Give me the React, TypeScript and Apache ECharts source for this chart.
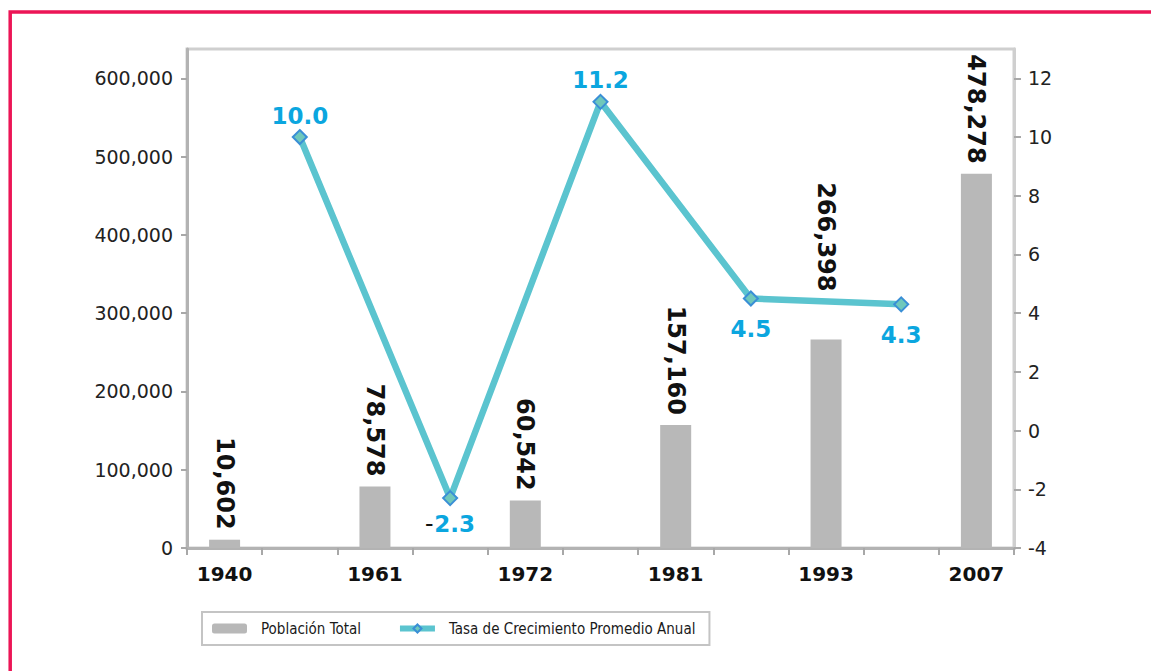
import React, { useEffect, useRef } from "react";
import * as echarts from "echarts";

// Categories: census years (bars) interleaved with inter-census slots (growth-rate points)
const years = ["1940", "1961", "1972", "1981", "1993", "2007"];
const populationValues = [10602, 78578, 60542, 157160, 266398, 478278];
const rateValues = [10.0, -2.3, 11.2, 4.5, 4.3];
const leftTicks = { min: 0, max: 637500, interval: 100000 };
const rightTicks = { min: -4, max: 13, interval: 2 };

// label placement (style, not data)
const barLabelDistance = [10, 10, 10, 10, 48, 10];
const ratePlacement = ["top", "bottom", "top", "bottom", "bottom"];
const rateDistance = [2, 6, 2, 11, 11];

const fmtThousands = (v: number) =>
  String(Math.round(v)).replace(/\B(?=(\d{3})+(?!\d))/g, ",");

export default function App() {
  const ref = useRef<HTMLDivElement>(null);

  useEffect(() => {
    if (!ref.current) return;
    const chart = echarts.init(ref.current, undefined, { renderer: "svg" });

    // 11 slots: even = census years, odd = growth-rate points between them
    const categories: string[] = [];
    const barData: any[] = [];
    const lineData: any[] = [];
    years.forEach((y, i) => {
      categories.push(y);
      barData.push({ value: populationValues[i], label: { distance: barLabelDistance[i] } });
      lineData.push(null);
      if (i < rateValues.length) {
        categories.push("");
        barData.push(null);
        lineData.push({
          value: rateValues[i],
          label: { position: ratePlacement[i], distance: rateDistance[i] },
        });
      }
    });

    chart.setOption({
      animation: false,
      backgroundColor: "#ffffff",
      graphic: [
        {
          type: "rect",
          silent: true,
          shape: { x: 10.2, y: 12, width: 1400, height: 900 },
          style: { fill: "none", stroke: "#ec1556", lineWidth: 3.5 },
        },
      ],
      grid: {
        left: 187,
        right: 137,
        top: 49,
        bottom: 123,
        show: true,
        borderColor: "#cfcfcf",
        borderWidth: 3,
        backgroundColor: "transparent",
      },
      legend: {
        left: 202,
        top: 612,
        orient: "horizontal",
        borderColor: "#c4c4c4",
        borderWidth: 2,
        padding: [9, 14, 9, 10],
        itemGap: 36,
        itemWidth: 35,
        itemHeight: 10,
        lineStyle: { width: 6 },
        textStyle: {
          fontFamily: "'Liberation Sans Narrow', 'DejaVu Sans Condensed', sans-serif",
          fontSize: 15,
          color: "#1a1a1a",
          padding: [0, 0, 0, 9],
        },
        data: ["Población Total", "Tasa de Crecimiento Promedio Anual"],
      },
      xAxis: {
        type: "category",
        data: categories,
        boundaryGap: true,
        axisLine: { lineStyle: { color: "#b3b3b3", width: 3 } },
        axisTick: {
          show: true,
          interval: 0,
          length: 7,
          lineStyle: { color: "#a8a8a8", width: 2 },
        },
        axisLabel: {
          interval: 0,
          margin: 16,
          color: "#111111",
          fontFamily: "'DejaVu Sans', sans-serif",
          fontWeight: "bold",
          fontSize: 20,
        },
        splitLine: { show: false },
      },
      yAxis: [
        {
          type: "value",
          min: leftTicks.min,
          max: leftTicks.max,
          interval: leftTicks.interval,
          position: "left",
          axisLine: { show: true, lineStyle: { color: "#b3b3b3", width: 3 } },
          axisTick: { show: true, length: 6, lineStyle: { color: "#a8a8a8", width: 2 } },
          axisLabel: {
            showMaxLabel: false,
            margin: 14,
            color: "#222222",
            fontFamily: "'DejaVu Sans', sans-serif",
            fontSize: 19,
            formatter: (v: number) => (v % leftTicks.interval === 0 ? fmtThousands(v) : ""),
          },
          splitLine: { show: false },
        },
        {
          type: "value",
          min: rightTicks.min,
          max: rightTicks.max,
          interval: rightTicks.interval,
          position: "right",
          axisLine: { show: true, lineStyle: { color: "#cfcfcf", width: 3 } },
          axisTick: { show: true, length: 7, lineStyle: { color: "#a8a8a8", width: 2 } },
          axisLabel: {
            showMaxLabel: false,
            margin: 14,
            color: "#222222",
            fontFamily: "'DejaVu Sans', sans-serif",
            fontSize: 19,
            formatter: (v: number) => (v % rightTicks.interval === 0 ? String(v) : ""),
          },
          splitLine: { show: false },
        },
      ],
      series: [
        {
          name: "Población Total",
          type: "bar",
          yAxisIndex: 0,
          data: barData,
          barWidth: 31,
          itemStyle: { color: "#b8b8b8" },
          label: {
            show: true,
            position: "top",
            rotate: -90,
            align: "right",
            verticalAlign: "middle",
            distance: 10,
            color: "#111111",
            fontFamily: "'DejaVu Sans', sans-serif",
            fontWeight: "bold",
            fontSize: 24,
            formatter: (p: any) => fmtThousands(p.value),
          },
        },
        {
          name: "Tasa de Crecimiento Promedio Anual",
          type: "line",
          yAxisIndex: 1,
          data: lineData,
          connectNulls: true,
          symbol: "diamond",
          symbolSize: 14,
          lineStyle: { color: "#5bc4cf", width: 6.5 },
          itemStyle: { color: "#6fc8bb", borderColor: "#3a8fd6", borderWidth: 2 },
          z: 3,
          label: {
            show: true,
            formatter: (p: any) => {
              const v = Number(p.value);
              return v < 0
                ? `{k|–}{b|${Math.abs(v).toFixed(1)}}`
                : `{b|${v.toFixed(1)}}`;
            },
            rich: {
              k: {
                color: "#111111",
                fontFamily: "'DejaVu Sans', sans-serif",
                fontWeight: "bold",
                fontSize: 16,
                padding: [0, 1, 0, 0],
              },
              b: {
                color: "#0ba6df",
                fontFamily: "'DejaVu Sans', sans-serif",
                fontWeight: "bold",
                fontSize: 23,
              },
            },
          },
        },
      ],
    });

    return () => chart.dispose();
  }, []);

  return (
    <div
      ref={ref}
      style={{ position: "fixed", left: 0, top: 0, width: 1151, height: 671, background: "#fff" }}
    />
  );
}
